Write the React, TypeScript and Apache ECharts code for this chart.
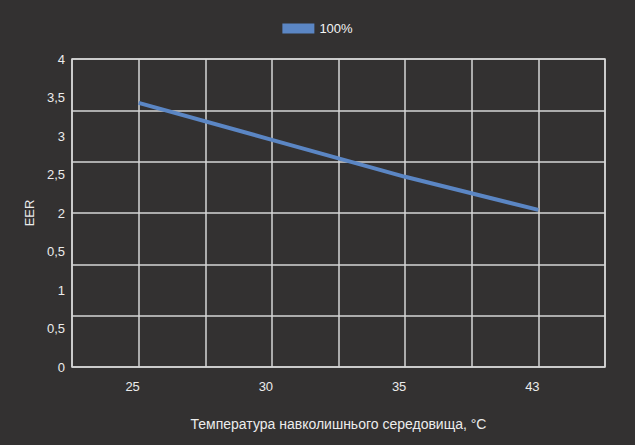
import * as echarts from "echarts";
import { useEffect, useRef } from "react";

const temperatures = ["25", "30", "35", "43"];
const eer100 = [3.43, 2.95, 2.47, 2.04];
const yTickLabels = ["0", "0,5", "1", "0,5", "2", "2,5", "3", "3,5", "4"];
const seriesName = "100%";

const font = "'Liberation Sans', Arial, sans-serif";
const textColor = "#ececec";
const gridColor = "#d6d6d6";

function buildOption(): echarts.EChartsCoreOption {
  return {
    animation: false,
    backgroundColor: "#333131",
    textStyle: { fontFamily: font },
    legend: {
      top: 17,
      left: "center",
      icon: "rect",
      itemWidth: 32,
      itemHeight: 10,
      itemGap: 10,
      textStyle: { color: "#f4f4f4", fontSize: 13, fontFamily: font },
      data: [seriesName]
    },
    grid: {
      left: 72,
      right: 30,
      top: 59,
      bottom: 78,
      show: true,
      borderColor: gridColor,
      borderWidth: 1.5,
      backgroundColor: "transparent"
    },
    xAxis: [
      {
        type: "category",
        data: temperatures,
        boundaryGap: true,
        name: "Температура навколишнього середовища, °C",
        nameLocation: "middle",
        nameGap: 50,
        nameTextStyle: { color: textColor, fontSize: 14, fontFamily: font },
        axisLine: { show: false },
        axisTick: { show: false },
        splitLine: { show: false },
        axisLabel: { color: textColor, fontSize: 13, margin: 13, fontFamily: font, padding: [0, 12, 0, 0] }
      },
      {
        type: "value",
        min: 0,
        max: 8,
        interval: 1,
        position: "bottom",
        axisLine: { show: false },
        axisTick: { show: false },
        axisLabel: { show: false },
        splitLine: { show: true, lineStyle: { color: gridColor, width: 1.5 } }
      }
    ],
    yAxis: [
      {
        type: "value",
        min: 0,
        max: 4,
        interval: 0.5,
        name: "EER",
        nameLocation: "middle",
        nameGap: 36,
        nameRotate: 90,
        nameTextStyle: { color: textColor, fontSize: 13, fontFamily: font },
        axisLine: { show: false },
        axisTick: { show: false },
        splitLine: { show: false },
        axisLabel: {
          color: textColor,
          fontSize: 13,
          margin: 7,
          fontFamily: font,
          formatter: (_value: number, index: number) => yTickLabels[index] ?? ""
        }
      },
      {
        type: "value",
        min: 0,
        max: 6,
        interval: 1,
        position: "left",
        axisLine: { show: false },
        axisTick: { show: false },
        axisLabel: { show: false },
        splitLine: { show: true, lineStyle: { color: gridColor, width: 1.5 } }
      }
    ],
    series: [
      {
        type: "line",
        name: seriesName,
        xAxisIndex: 0,
        yAxisIndex: 0,
        data: eer100,
        showSymbol: false,
        symbol: "none",
        color: "#5b86c4",
        lineStyle: { color: "#5b86c4", width: 4 },
        itemStyle: { color: "#5b86c4" }
      }
    ]
  };
}

export default function App() {
  const elementRef = useRef<HTMLDivElement | null>(null);

  useEffect(() => {
    if (!elementRef.current) {
      return;
    }
    const chart = echarts.init(elementRef.current, undefined, { renderer: "svg" });
    chart.setOption(buildOption());
    return () => {
      chart.dispose();
    };
  }, []);

  return (
    <div
      ref={elementRef}
      style={{ position: "fixed", left: 0, top: 0, width: 635, height: 445 }}
    />
  );
}
